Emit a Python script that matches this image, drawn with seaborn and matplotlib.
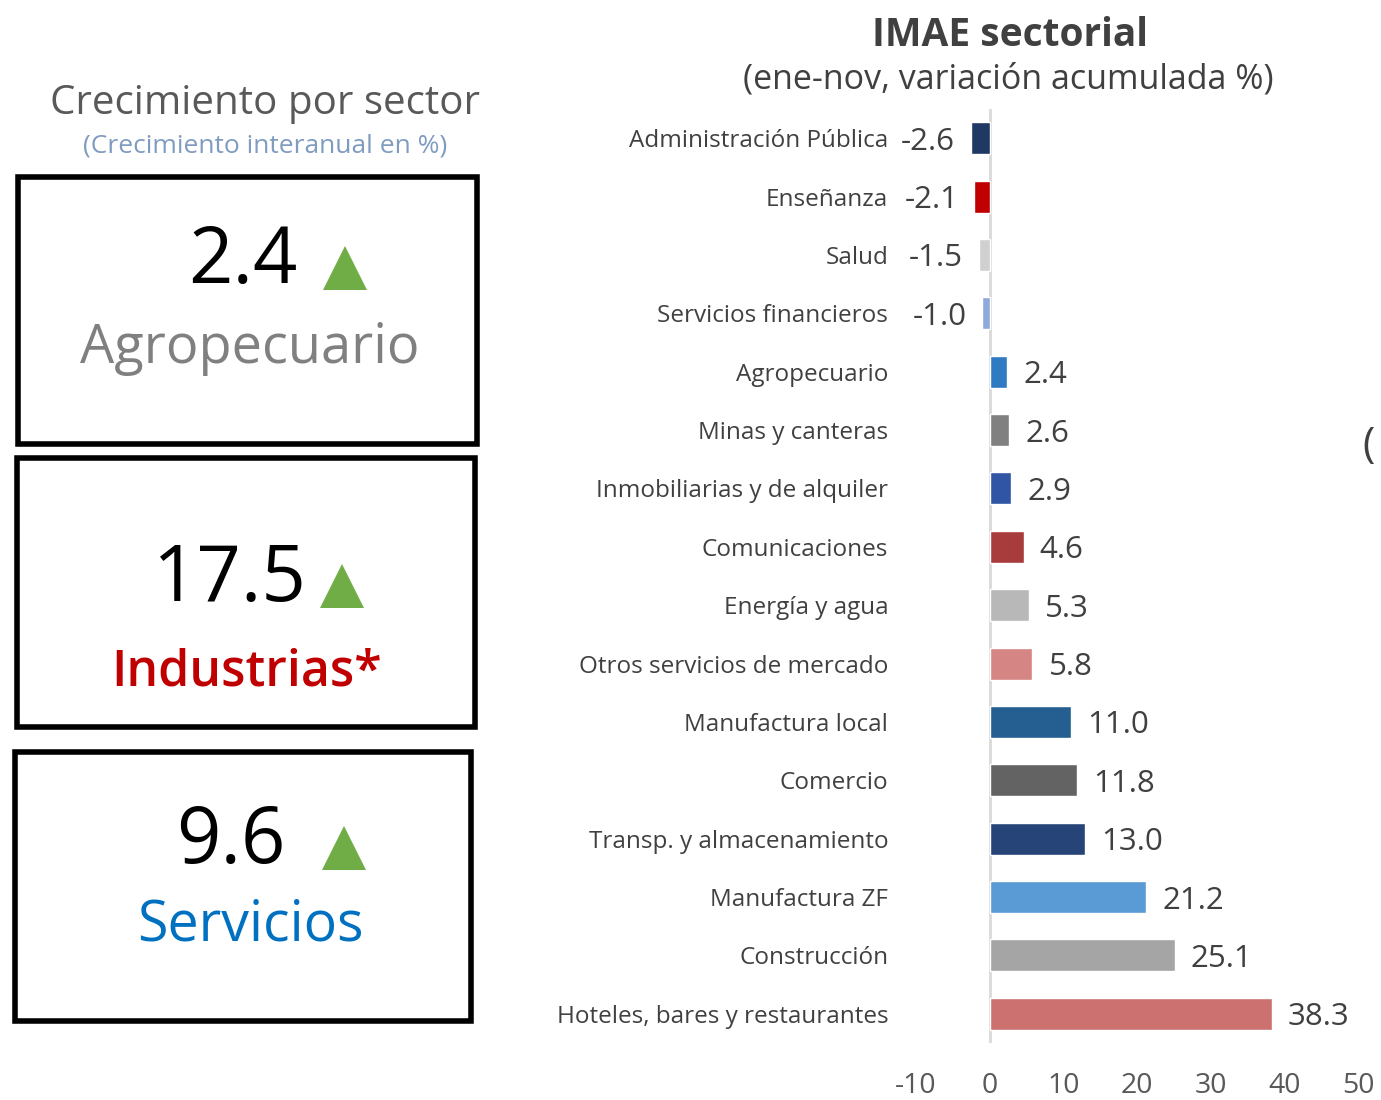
import matplotlib.pyplot as plt
import matplotlib.patches as mpatches
import seaborn as sns
import pandas as pd

sns.set_theme(style='white')
plt.rcParams['font.family'] = ['Open Sans', 'DejaVu Sans']

# --- datos del gráfico de barras ---
sectores = ['Administración Pública', 'Enseñanza', 'Salud', 'Servicios financieros',
            'Agropecuario', 'Minas y canteras', 'Inmobiliarias y de alquiler',
            'Comunicaciones', 'Energía y agua', 'Otros servicios de mercado',
            'Manufactura local', 'Comercio', 'Transp. y almacenamiento',
            'Manufactura ZF', 'Construcción', 'Hoteles, bares y restaurantes']
variacion = [-2.6, -2.1, -1.5, -1.0, 2.4, 2.6, 2.9, 4.6, 5.3, 5.8,
             11.0, 11.8, 13.0, 21.2, 25.1, 38.3]
colores = ['#1f3864', '#c00000', '#d0d0d0', '#8eaadb', '#2e7bc4', '#808080',
           '#2f55a4', '#a83c3c', '#b8b8b8', '#d48584', '#255e91', '#636363',
           '#264478', '#5b9bd5', '#a5a5a5', '#cc7070']
ticks_x = [-10, 0, 10, 20, 30, 40, 50]

# --- datos del panel izquierdo ---
panel_sectores = ['Agropecuario', 'Industrias*', 'Servicios']
panel_valores = ['2.4', '17.5', '9.6']
panel_colores = ['#808080', '#c00000', '#0070c0']

df = pd.DataFrame({'sector': sectores, 'valor': variacion})

W, H = 1381, 1100
fig = plt.figure(figsize=(W / 100, H / 100), dpi=100)

def fx(px):
    return px / W

def fy(py):
    return 1 - py / H

# --- Subplot barras: IMAE sectorial ---
ax = fig.add_axes([fx(916), fy(1043), fx(1358) - fx(916), fy(109) - fy(1043)])
sns.barplot(data=df, y='sector', x='valor', hue='sector', palette=colores,
            order=sectores, orient='h', width=0.55, saturation=1,
            legend=False, ax=ax)
ax.set_xlim(-10, 50)
ax.set_xticks(ticks_x)
ax.set_xticklabels([str(t) for t in ticks_x], fontsize=20.5, color='#595959')
ax.tick_params(axis='x', length=0, pad=21)
ax.tick_params(axis='y', length=0, pad=20, labelsize=17.5, labelcolor='#404040')
ax.set_xlabel('')
ax.set_ylabel('')
for s in ax.spines.values():
    s.set_visible(False)
ax.axvline(0, color='#d9d9d9', lw=2, zorder=0)

for i, v in enumerate(variacion):
    if v < 0:
        ax.text(v - 2.1, i, f'{v:.1f}', va='center_baseline', ha='right',
                fontsize=22.5, color='#404040')
    else:
        ax.text(v + 2.2, i, f'{v:.1f}', va='center_baseline', ha='left',
                fontsize=22.5, color='#404040')

fig.text(fx(1010), fy(35), 'IMAE sectorial', ha='center', va='center',
         fontsize=28, fontweight='bold', color='#404040')
fig.text(fx(1008), fy(80), '(ene-nov, variación acumulada %)', ha='center',
         va='center', fontsize=24.5, color='#404040')
fig.text(fx(1362), fy(446), '(', ha='left', va='center', fontsize=30, color='#404040')

# --- Panel izquierdo: crecimiento por sector ---
fig.text(fx(265), fy(104), 'Crecimiento por sector', ha='center', va='center',
         fontsize=29, color='#595959')
fig.text(fx(265), fy(146), '(Crecimiento interanual en %)', ha='center',
         va='center', fontsize=19, color='#7f9cc0')

cajas = [(18, 177, 477, 444), (17, 458, 475, 727), (15, 752, 471, 1021)]
pos_num = [(243, 262), (230, 580), (231, 843)]
pos_tri = [(345, 270), (342, 588), (344, 850)]
pos_nom = [(250, 348), (247, 672), (250, 926)]
pesos = ['normal', 'semibold', 'normal']
tam_nom = [39, 36, 40]
for k in range(3):
    x0, y0, x1, y1 = cajas[k]
    fig.add_artist(mpatches.Rectangle((fx(x0), fy(y1)), fx(x1) - fx(x0), fy(y0) - fy(y1),
                                      transform=fig.transFigure, fill=False,
                                      edgecolor='black', lw=4))
    fig.text(fx(pos_num[k][0]), fy(pos_num[k][1]), panel_valores[k], ha='center',
             va='center', fontsize=56, color='black')
    tx, ty = pos_tri[k]
    fig.add_artist(mpatches.Polygon([(fx(tx - 22), fy(ty + 20)), (fx(tx + 22), fy(ty + 20)),
                                     (fx(tx), fy(ty - 24))],
                                    closed=True, transform=fig.transFigure,
                                    facecolor='#70ad47', edgecolor='none'))
    fig.text(fx(pos_nom[k][0]), fy(pos_nom[k][1]), panel_sectores[k], ha='center',
             va='center', fontsize=tam_nom[k], color=panel_colores[k], fontweight=pesos[k])

plt.savefig('out.png', dpi=100)
